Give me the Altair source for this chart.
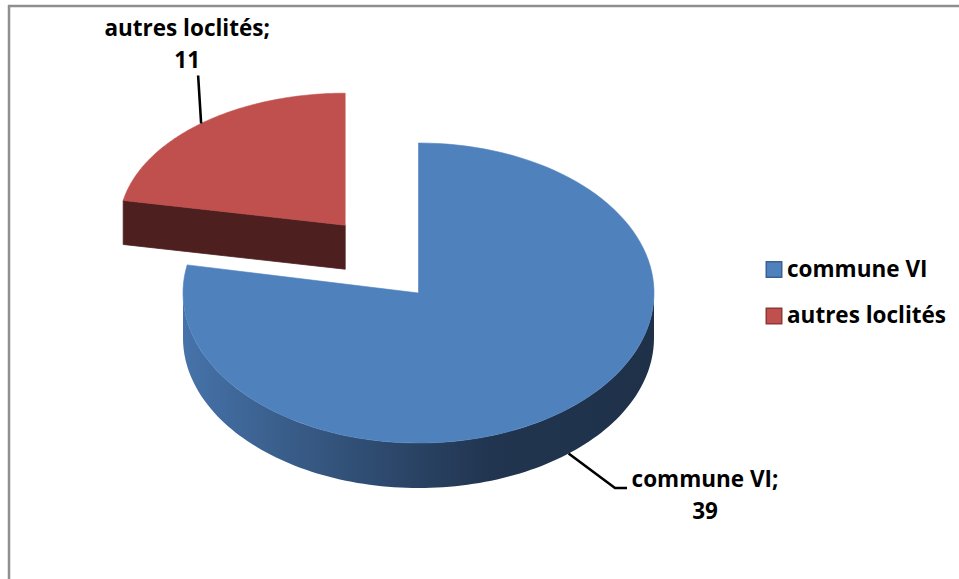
import json
import altair as alt
import pandas as pd

# ---- data ----
categories = ["commune VI", "autres loclités"]
values = [39, 11]

# ---- styles (per category) ----
STYLE = {
    "commune VI": dict(rx=235.5, ry=150, depth=45, ex=0, ey=0,
                       top="#4F81BD", face="#2B4568", edge="#3A6190",
                       l1x=46.4, l1y=34.4, l2x=58.4, l2y=34.4, tx=78, ty=-1),
    "autres loclités": dict(rx=226, ry=132, depth=44, ex=115, ey=88,
                            top="#C0504D", face="#4D1F1F", edge="#8C3836",
                            l1x=-3, l1y=-48, l2x=-3, l2y=-48, tx=-11, ty=-39.5),
}
CX, CY = 418.5, 293
W, H = 959, 579
N = 120
FONT = "Open Sans"
FS = 22.5

WALL_GRAD = {
    "gradient": "linear", "x1": 0, "x2": 1, "y1": 0, "y2": 0,
    "stops": [
        {"offset": 0.0, "color": "#4673AA"},
        {"offset": 0.2, "color": "#3A5F8C"},
        {"offset": 0.45, "color": "#2C476A"},
        {"offset": 0.65, "color": "#213550"},
        {"offset": 1.0, "color": "#1F3149"},
    ],
}


def sexpr(key):
    expr = str(STYLE[categories[-1]][key])
    for c in reversed(categories[:-1]):
        expr = f"(datum.category === {json.dumps(c)} ? {STYLE[c][key]} : {expr})"
    return expr


df = pd.DataFrame({"category": categories, "value": values,
                   "idx": list(range(len(categories)))})

xs = alt.Scale(domain=[0, W], nice=False, zero=False)
ys = alt.Scale(domain=[H, 0], nice=False, zero=False)
X = alt.X("px:Q", scale=xs, axis=None)
Y = alt.Y("py:Q", scale=ys, axis=None)

base = (
    alt.Chart(df)
    .transform_window(cum="sum(value)", sort=[alt.SortField("idx")], frame=[None, 0])
    .transform_joinaggregate(total="sum(value)")
    .transform_calculate(
        a0="2*PI*(datum.cum - datum.value)/datum.total",
        a1="2*PI*datum.cum/datum.total",
        rx=sexpr("rx"), ry=sexpr("ry"), depth=sexpr("depth"),
        ex=sexpr("ex"), ey=sexpr("ey"),
        l1x=sexpr("l1x"), l1y=sexpr("l1y"), l2x=sexpr("l2x"), l2y=sexpr("l2y"),
        tx=sexpr("tx"), ty=sexpr("ty"),
    )
    .transform_calculate(mid="(datum.a0 + datum.a1)/2")
    .transform_calculate(
        cx=f"{CX} + datum.ex*sin(datum.mid)",
        cy=f"{CY} - datum.ey*cos(datum.mid)",
    )
)

layers = []

# radial cut faces
for c in categories:
    faces = (
        base.transform_filter(alt.datum.category == c)
        .transform_calculate(f="[0, 1]")
        .transform_flatten(["f"])
        .transform_calculate(fa="datum.f == 0 ? datum.a0 : datum.a1",
                             vis="datum.f == 0 ? (sin(datum.a0) < -0.001) : (sin(datum.a1) > 0.001)")
        .transform_filter("datum.vis")
        .transform_calculate(k="sequence(0, 4)")
        .transform_flatten(["k"])
        .transform_calculate(
            px="(datum.k == 0 || datum.k == 3) ? datum.cx : datum.cx + datum.rx*sin(datum.fa)",
            py="((datum.k == 0 || datum.k == 3) ? datum.cy : datum.cy - datum.ry*cos(datum.fa)) + (datum.k >= 2 ? datum.depth : 0)",
        )
        .mark_line(fill=STYLE[c]["face"], stroke=STYLE[c]["face"], strokeWidth=0.8,
                   interpolate="linear-closed")
        .encode(x=X, y=Y, order="k:Q", detail="f:N")
    )
    layers.append(faces)

# curved front walls
for c in categories:
    wall = (
        base.transform_filter(alt.datum.category == c)
        .transform_calculate(ws="max(datum.a0, PI/2)", we="min(datum.a1, 3*PI/2)")
        .transform_filter("datum.ws < datum.we")
        .transform_calculate(k=f"sequence(0, {2 * N + 2})")
        .transform_flatten(["k"])
        .transform_calculate(
            a=f"datum.k <= {N} ? datum.ws + (datum.we - datum.ws)*datum.k/{N} : datum.ws + (datum.we - datum.ws)*({2 * N + 1} - datum.k)/{N}",
        )
        .transform_calculate(
            px="datum.cx + datum.rx*sin(datum.a)",
            py=f"datum.cy - datum.ry*cos(datum.a) + (datum.k > {N} ? datum.depth : 0)",
        )
        .mark_line(fill=WALL_GRAD, stroke=None, strokeWidth=0, interpolate="linear-closed")
        .encode(x=X, y=Y, order="k:Q")
    )
    layers.append(wall)

# top faces
for c in categories:
    top = (
        base.transform_filter(alt.datum.category == c)
        .transform_calculate(k=f"sequence(0, {N + 3})")
        .transform_flatten(["k"])
        .transform_calculate(a=f"datum.a0 + (datum.a1 - datum.a0)*clamp(datum.k - 1, 0, {N})/{N}")
        .transform_calculate(
            px=f"(datum.k == 0 || datum.k == {N + 2}) ? datum.cx : datum.cx + datum.rx*sin(datum.a)",
            py=f"(datum.k == 0 || datum.k == {N + 2}) ? datum.cy : datum.cy - datum.ry*cos(datum.a)",
        )
        .mark_line(fill=STYLE[c]["top"], stroke=STYLE[c]["top"], strokeWidth=0.6,
                   interpolate="linear-closed")
        .encode(x=X, y=Y, order="k:Q")
    )
    layers.append(top)

# leader lines and data labels
anchor = base.transform_calculate(
    ax="datum.cx + datum.rx*sin(datum.mid)",
    ay="datum.cy - datum.ry*cos(datum.mid) + (cos(datum.mid) < 0 ? datum.depth : 0)",
)
leaders = (
    anchor.transform_calculate(k="[0, 1, 2]")
    .transform_flatten(["k"])
    .transform_calculate(
        px="datum.ax + (datum.k == 0 ? 0 : datum.k == 1 ? datum.l1x : datum.l2x)",
        py="datum.ay + (datum.k == 0 ? 0 : datum.k == 1 ? datum.l1y : datum.l2y)",
    )
    .mark_line(color="black", strokeWidth=2.6)
    .encode(x=X, y=Y, order="k:Q", detail="category:N")
)
labels = (
    anchor.transform_calculate(
        px="datum.ax + datum.l2x + datum.tx",
        py="datum.ay + datum.l2y + datum.ty",
        label="datum.category + ';\\n' + datum.value",
    )
    .mark_text(font=FONT, fontSize=FS, fontWeight="bold", color="black",
               align="center", baseline="alphabetic", lineBreak="\n", lineHeight=32)
    .encode(x=X, y=Y, text="label:N")
)
layers += [leaders, labels]

# legend
LX, LY, LSTEP = 774, 269.5, 46.5
for c in categories:
    sq = (
        alt.Chart(df)
        .transform_filter(alt.datum.category == c)
        .transform_calculate(px=f"{LX}", py=f"{LY} + datum.idx*{LSTEP}")
        .mark_point(shape="square", size=240, filled=True, fill=STYLE[c]["top"],
                    stroke=STYLE[c]["edge"], strokeWidth=1.5, opacity=1)
        .encode(x=X, y=Y)
    )
    layers.append(sq)
legend_text = (
    alt.Chart(df)
    .transform_calculate(px=f"{LX + 13}", py=f"{LY + 7} + datum.idx*{LSTEP}")
    .mark_text(font=FONT, fontSize=FS, fontWeight="bold", color="black",
               align="left", baseline="alphabetic")
    .encode(x=X, y=Y, text="category:N")
)
layers.append(legend_text)

# chart-area border (left and top edges visible)
border_data = alt.Data(values=[{"b": 1}])
border_left = alt.Chart(border_data).mark_rule(color="#8F8F8F", strokeWidth=2.5).encode(
    x=alt.value(9), y=alt.value(5), y2=alt.value(H))
border_top = alt.Chart(border_data).mark_rule(color="#8F8F8F", strokeWidth=2.5).encode(
    x=alt.value(8), x2=alt.value(W), y=alt.value(6))
layers += [border_left, border_top]

chart = (
    alt.layer(*layers)
    .properties(width=W, height=H, autosize=alt.AutoSizeParams(type="none"), padding=0,
                background="white")
    .configure_view(stroke=None)
)

chart.save("out.html", embed_options={"renderer": "svg", "actions": False})
